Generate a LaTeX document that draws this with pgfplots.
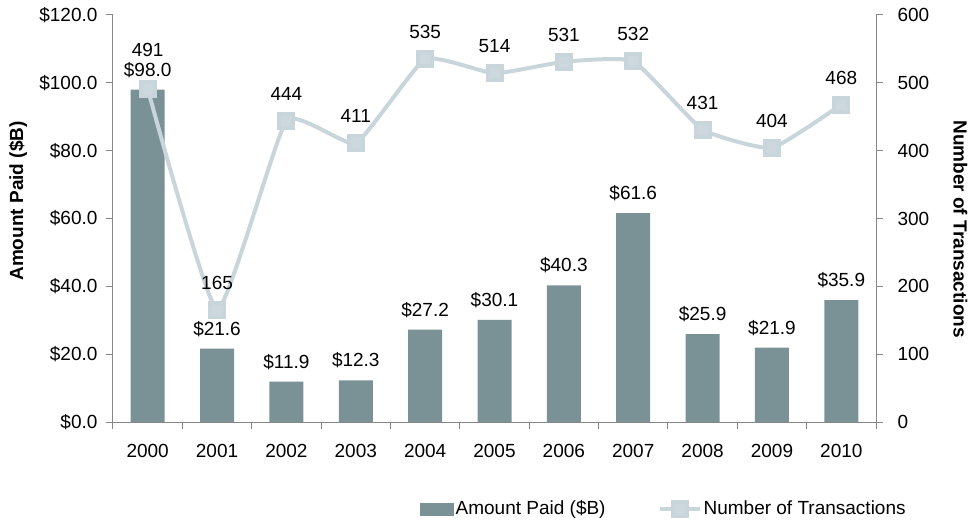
\documentclass[border=0pt]{standalone}
\usepackage{pgfplots}
\pgfplotsset{compat=1.18}
\usepackage{fontspec}
\setmainfont{Liberation Sans}
\definecolor{barcol}{RGB}{122,146,150}
\definecolor{linecol}{RGB}{200,213,219}
\definecolor{markcol}{RGB}{204,216,222}
\definecolor{axcol}{RGB}{134,134,134}
\pgfplotsset{
  /pgf/number format/assume math mode=true,
  base/.style={
    scale only axis, width=763pt, height=407pt,
    xmin=-0.5, xmax=10.5,
    at={(0pt,0pt)}, anchor=south west,
    axis line style={axcol, line width=1pt},
    tick style={axcol, line width=1pt},
    tick align=outside,
    major tick length=7pt,
    minor tick length=7pt,
  },
  mylinelegend/.style={legend image code/.code={\draw[mark repeat=2, mark phase=2, ##1] plot coordinates {(0pt,0pt) (20pt,0pt) (40pt,0pt)};}},
}
\begin{document}
\fontsize{19}{23}\selectfont
\begin{tikzpicture}
\path[use as bounding box] (-113pt,-97pt) rectangle (858pt,422pt);
\begin{axis}[base,
  axis x line*=bottom, axis y line*=left,
  ymin=0, ymax=120, ytick={0,20,...,120},
  yticklabel={\$\pgfmathprintnumber[fixed,fixed zerofill,precision=1]{\tick}},
  yticklabel style={xshift=-2pt},
  xtick={-0.5,0.5,...,10.5}, xticklabels={},
  extra x ticks={0,1,2,3,4,5,6,7,8,9,10},
  extra x tick labels={2000,2001,2002,2003,2004,2005,2006,2007,2008,2009,2010},
  extra x tick style={major tick length=0pt, xticklabel style={yshift=-16pt}},
  every axis y label/.style={at={(axis description cs:-0.1245,0.543)}, anchor=center, rotate=90, font=\bfseries},
  ylabel={Amount Paid (\$B)},
]
\addplot[ybar, bar width=34pt, fill=barcol, draw=none,
  nodes near coords={\$\pgfmathprintnumber[fixed,fixed zerofill,precision=1]{\pgfplotspointmeta}},
  every node near coord/.append style={anchor=base, yshift=13.4pt, inner sep=0pt, text=black}]
coordinates {(0,98.0) (1,21.6) (2,11.9) (3,12.3) (4,27.2) (5,30.1) (6,40.3) (7,61.6) (8,25.9) (9,21.9) (10,35.9)};
\end{axis}
\begin{axis}[base,
  axis y line*=right, axis x line=none,
  ymin=0, ymax=600, ytick={0,100,...,600},
  yticklabel style={xshift=8pt},
  every axis y label/.style={at={(axis description cs:1.1107,0.474)}, anchor=center, rotate=-90, font=\bfseries},
  ylabel={Number of Transactions},
  legend columns=2,
  legend style={at={(axis description cs:0.4024,-0.214)}, anchor=west, draw=none, fill=none, inner sep=0pt,
    nodes={inner sep=2pt}, /tikz/every even column/.append style={column sep=50pt}},
]
\addlegendimage{legend image code/.code={\fill[barcol] (0pt,-6pt) rectangle (33pt,6pt);}}
\addlegendentry{Amount Paid (\$B)}
\addplot[linecol, line width=4pt, smooth, tension=0.25,
  mark=square*, mark size=7pt, mark options={fill=markcol, draw=none},
  mylinelegend,
  point meta=explicit symbolic, nodes near coords,
  every node near coord/.append style={anchor=base, yshift=20.4pt, inner sep=0pt, text=black}]
coordinates {(0,491) [] (1,165) [165] (2,444) [444] (3,411) [411] (4,535) [535] (5,514) [514] (6,531) [531] (7,532) [532] (8,431) [431] (9,404) [404] (10,468) [468]};
\addlegendentry{Number of Transactions}
\addplot[draw=none, forget plot, point meta=explicit symbolic, nodes near coords,
  every node near coord/.append style={anchor=base, yshift=32.4pt, inner sep=0pt, text=black}]
coordinates {(0,491) [491]};
\end{axis}
\end{tikzpicture}
\end{document}
